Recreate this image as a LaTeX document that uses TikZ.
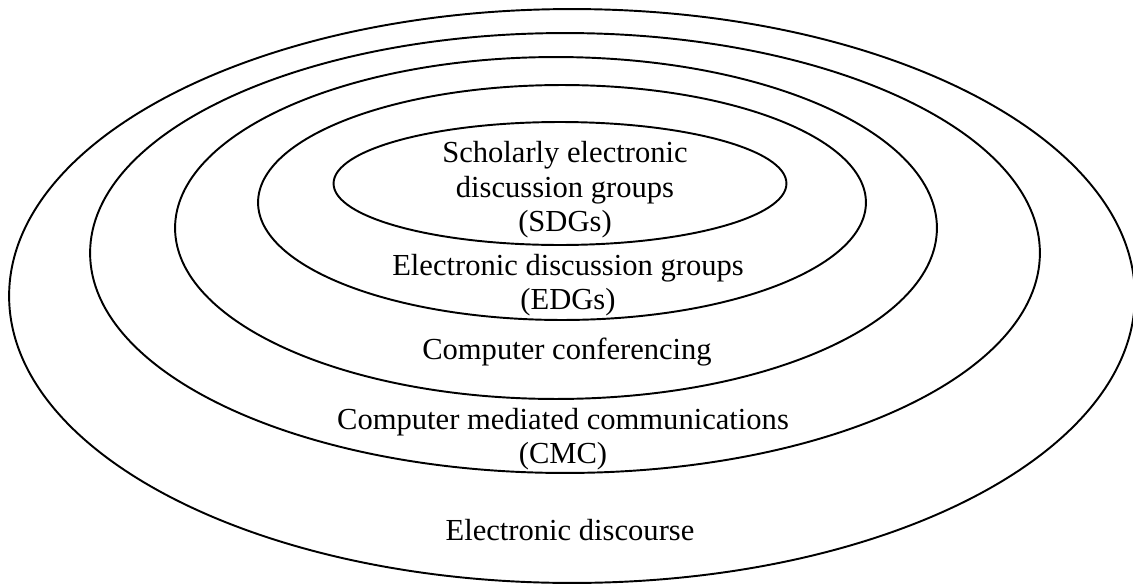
\documentclass[tikz,border=0pt]{standalone}
\usepackage{fontspec}
\setmainfont{Liberation Serif}
\usepackage{tikz}
\usetikzlibrary{positioning}
\tikzstyle{ring} = [line width=1.1pt]
\tikzstyle{lbl} = [align=center, inner sep=0pt, font=\fontsize{17.4}{19.6}\selectfont]

\begin{document}
\begin{tikzpicture}[x=0.02cm, y=-0.02cm]
    \useasboundingbox (0,0) rectangle (1133,585);% page size
    \draw[ring] (572,296) ellipse (11.26cm and 5.74cm);% electronic discourse
    \draw[ring] (565,253) ellipse (9.5cm and 4.4cm);% CMC
    \draw[ring] (556,228) ellipse (7.62cm and 3.42cm);% conferencing
    \draw[ring] (562,202.5) ellipse (6.08cm and 2.35cm);% EDGs
    \draw[ring] (560,183.5) ellipse (4.53cm and 1.23cm);% SDGs
    % Labels
    \node[lbl] (sdg) at (565,190) {Scholarly electronic\\discussion groups\\(SDGs)};
    \node[lbl] (edg) at (568,285) {Electronic discussion groups\\(EDGs)};
    \node[lbl] (conf) at (567,352) {Computer conferencing};
    \node[lbl] (cmc) at (563,439) {Computer mediated communications\\(CMC)};
    \node[lbl] (disc) at (570,530) {Electronic discourse};
\end{tikzpicture}
\end{document}
